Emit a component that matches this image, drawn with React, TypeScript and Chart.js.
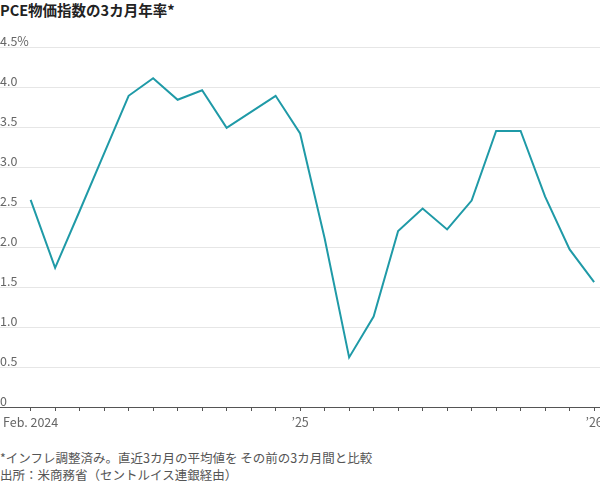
import { useEffect, useRef } from 'react';
import Chart from 'chart.js/auto';

const title = 'PCE物価指数の3カ月年率*';
const notes = [
  '*インフレ調整済み。直近3カ月の平均値を その前の3カ月間と比較',
  '出所：米商務省（セントルイス連銀経由）',
];

// Feb 2024 .. Jan 2026
const months = [
  '2024-02', '2024-03', '2024-04', '2024-05', '2024-06', '2024-07',
  '2024-08', '2024-09', '2024-10', '2024-11', '2024-12', '2025-01',
  '2025-02', '2025-03', '2025-04', '2025-05', '2025-06', '2025-07',
  '2025-08', '2025-09', '2025-10', '2025-11', '2025-12', '2026-01',
];
const pceRate = [
  2.59, 1.74, 2.45, 3.17, 3.89, 4.11, 3.84, 3.96, 3.49, 3.69, 3.89, 3.42,
  2.11, 0.62, 1.13, 2.2, 2.48, 2.22, 2.58, 3.45, 3.45, 2.63, 1.97, 1.56,
];
const xTickLabels: Record<string, string> = {
  '2024-02': 'Feb. 2024',
  '2025-01': '’25',
  '2026-01': '’26',
};
const yTicks = [0, 0.5, 1, 1.5, 2, 2.5, 3, 3.5, 4, 4.5];
const yTickLabels = ['0', '0.5', '1.0', '1.5', '2.0', '2.5', '3.0', '3.5', '4.0', '4.5%'];

const FONT = '"Noto Sans CJK JP", "Noto Sans", sans-serif';

export default function App() {
  const chartRef = useRef<HTMLCanvasElement | null>(null);

  useEffect(() => {
    document.body.style.margin = '0';
    if (chartRef.current === null) return () => {};
    const aChart = new Chart(chartRef.current, {
      type: 'line',
      data: {
        datasets: [
          {
            data: pceRate.map((v, i) => ({ x: i, y: v })),
            borderColor: '#1f9aa7',
            borderWidth: 2,
            pointRadius: 0,
            tension: 0,
          },
        ],
      },
      options: {
        animation: false,
        responsive: true,
        maintainAspectRatio: false,
        layout: { padding: { top: 25, bottom: 0, left: 0, right: 0 } },
        plugins: {
          legend: { display: false },
          tooltip: { enabled: false },
        },
        scales: {
          x: {
            type: 'linear',
            min: -1.25,
            max: 23.24,
            afterBuildTicks: (scale) => {
              scale.ticks = months.map((_, i) => ({ value: i }));
            },
            afterFit: (scale) => {
              scale.paddingLeft = 0;
              scale.paddingRight = 0;
            },
            grid: {
              drawOnChartArea: false,
              drawTicks: true,
              tickLength: 4,
              tickColor: '#555',
            },
            border: { display: true, color: '#555', width: 1 },
            ticks: {
              autoSkip: false,
              maxRotation: 0,
              padding: 4,
              color: '#666',
              font: { family: FONT, size: 12.5 },
              callback: (v) => xTickLabels[months[Number(v)]] ?? '',
            },
          },
          y: {
            min: 0,
            max: 4.5,
            afterBuildTicks: (scale) => {
              scale.ticks = yTicks.map((v) => ({ value: v }));
            },
            afterFit: (scale) => {
              scale.paddingTop = 0;
              scale.paddingBottom = 0;
            },
            grid: {
              drawTicks: false,
              color: (ctx) => (ctx.tick && ctx.tick.value === 0 ? '#555' : '#e6e6e6'),
              lineWidth: 1,
            },
            border: { display: false },
            ticks: {
              mirror: true,
              padding: 0,
              labelOffset: -6,
              color: '#666',
              font: { family: FONT, size: 12.5 },
              callback: (v) => yTickLabels[yTicks.indexOf(Number(v))] ?? '',
            },
          },
        },
      },
    });
    return () => {
      aChart.destroy();
    };
  }, []);

  return (
    <div style={{ position: 'relative', width: 600, height: 483, fontFamily: FONT }}>
      <div
        style={{
          position: 'absolute', top: 0, left: 0, height: 20, lineHeight: '20px',
          fontSize: 14.5, fontWeight: 700, color: '#222', whiteSpace: 'nowrap',
        }}
      >
        {title}
      </div>
      <div style={{ position: 'absolute', top: 22, left: 0, width: 600, height: 412 }}>
        <canvas ref={chartRef} />
      </div>
      <div
        style={{
          position: 'absolute', top: 449, left: 0, fontSize: 12.5, lineHeight: '17px',
          color: '#555', whiteSpace: 'nowrap',
        }}
      >
        {notes.map((n) => <div key={n}>{n}</div>)}
      </div>
    </div>
  );
}
